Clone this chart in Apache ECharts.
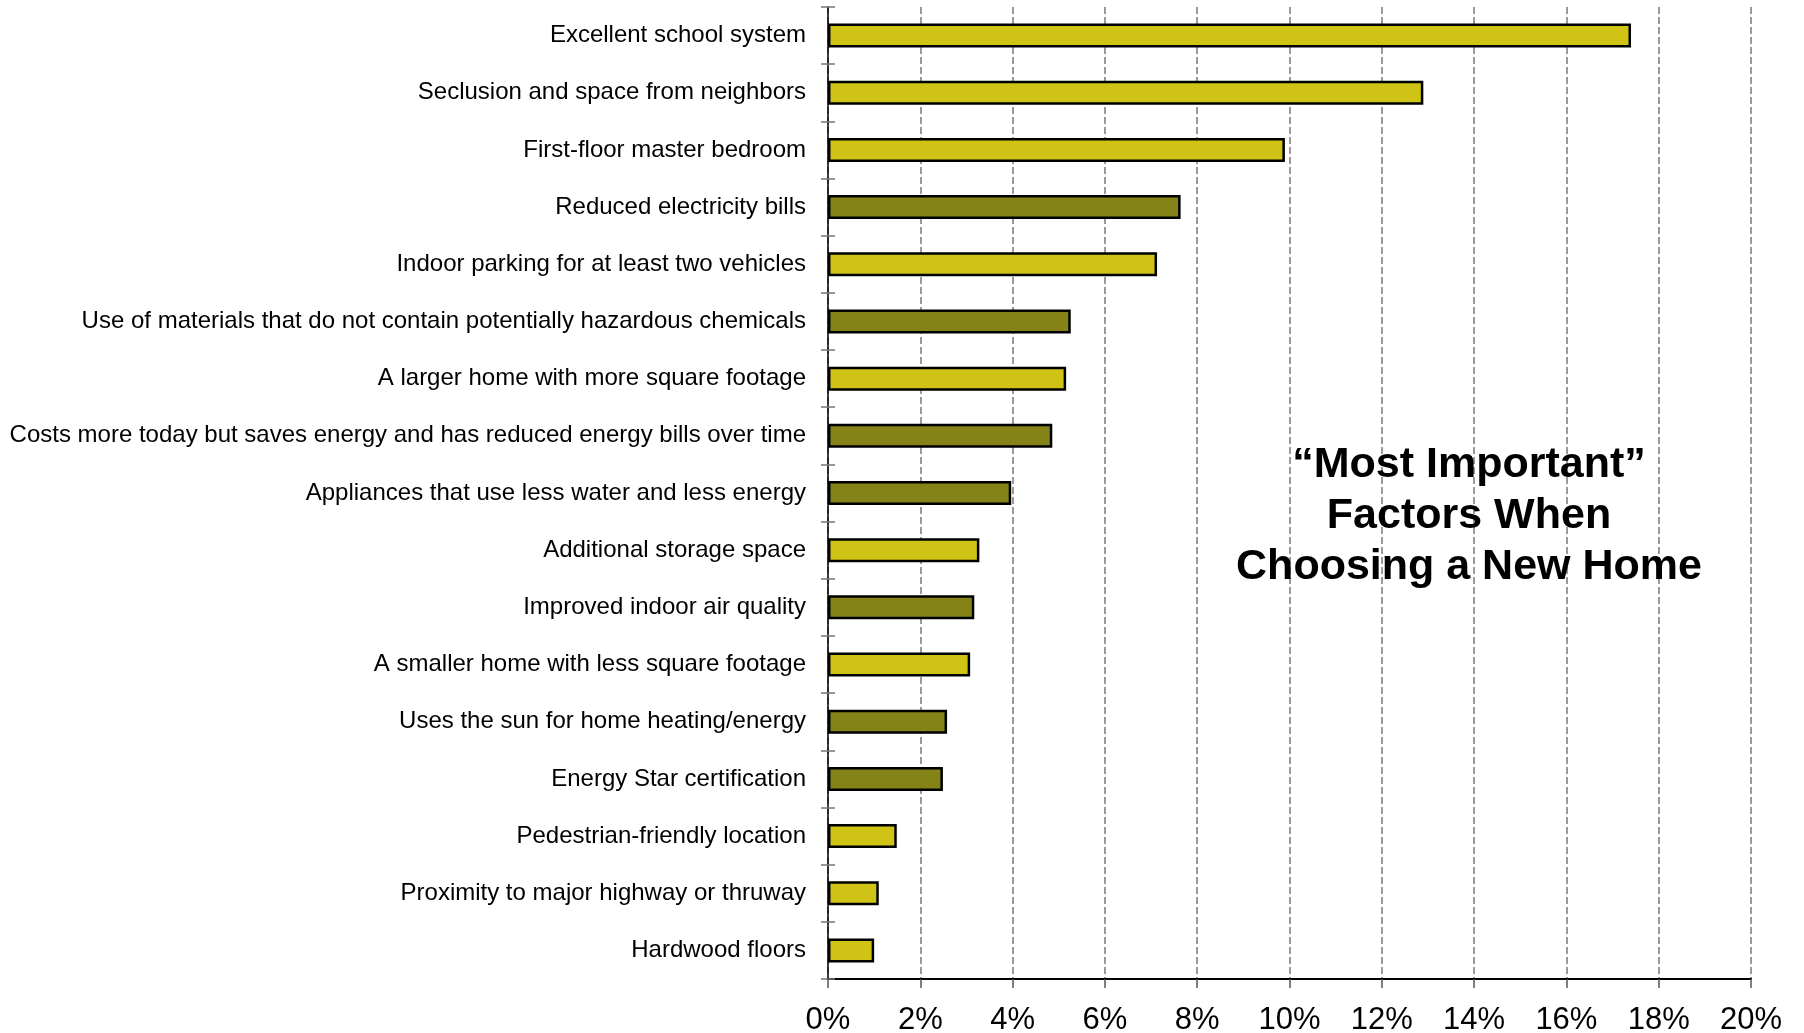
<!DOCTYPE html>
<html>
<head>
<meta charset="utf-8">
<script src="https://cdn.jsdelivr.net/npm/echarts@6/dist/echarts.min.js"></script>
<style>html,body{margin:0;padding:0;background:#fff}#c{width:1804px;height:1033px}</style>
</head>
<body>
<div id="c"></div>
<script>
const categories = [
  "Excellent school system",
  "Seclusion and space from neighbors",
  "First-floor master bedroom",
  "Reduced electricity bills",
  "Indoor parking for at least two vehicles",
  "Use of materials that do not contain potentially hazardous chemicals",
  "A larger home with more square footage",
  "Costs more today but saves energy and has reduced energy bills over time",
  "Appliances that use less water and less energy",
  "Additional storage space",
  "Improved indoor air quality",
  "A smaller home with less square footage",
  "Uses the sun for home heating/energy",
  "Energy Star certification",
  "Pedestrian-friendly location",
  "Proximity to major highway or thruway",
  "Hardwood floors"
];
const values = [17.4, 12.9, 9.9, 7.64, 7.13, 5.26, 5.16, 4.86, 3.97, 3.28, 3.17, 3.08, 2.58, 2.49, 1.49, 1.1, 1.0];
// 1 = green/energy-related factor (darker olive), 0 = other factor
const energyFactor = [0, 0, 0, 1, 0, 1, 0, 1, 1, 0, 1, 0, 1, 1, 0, 0, 0];
const xTicks = ["0%","2%","4%","6%","8%","10%","12%","14%","16%","18%","20%"];
const titleLines = ["\u201cMost Important\u201d", "Factors When", "Choosing a New Home"];

const BRIGHT = '#CFC416';
const DARK = '#858318';

const chart = echarts.init(document.getElementById('c'), null, {renderer: 'canvas'});
chart.setOption({
  animation: false,
  backgroundColor: '#ffffff',
  textStyle: {fontFamily: 'Liberation Sans, Arial, sans-serif'},
  title: {
    text: titleLines.join('\n'),
    left: 1464, top: 435, textAlign: 'center',
    textStyle: {fontSize: 43, fontWeight: 'bold', color: '#000', lineHeight: 51,
      fontFamily: 'Liberation Sans, Arial, sans-serif'}
  },
  grid: {left: 828, right: 53, top: 7, bottom: 54, containLabel: false, outerBoundsMode: 'none'},
  xAxis: {
    type: 'value', min: 0, max: 20, interval: 2,
    axisLine: {show: true, lineStyle: {color: '#000', width: 2}},
    axisTick: {show: true, length: 9, lineStyle: {color: '#555', width: 1.5}},
    splitLine: {show: true, lineStyle: {color: '#9a9a9a', width: 2, type: [7, 3]}},
    axisLabel: {
      margin: 26, fontSize: 31, color: '#000',
      formatter: function (v) { return xTicks[Math.round(v / 2)]; }
    }
  },
  yAxis: [{
    type: 'category', data: categories, inverse: true,
    axisLine: {show: true, lineStyle: {color: '#000', width: 1.5}},
    axisTick: {show: true, length: 7, lineStyle: {color: '#777', width: 1.5}},
    axisLabel: {fontSize: 24, color: '#000', margin: 22}
  }, {
    type: 'category', data: categories, inverse: true, position: 'left',
    axisLine: {show: false},
    axisTick: {show: true, inside: true, length: 7, lineStyle: {color: '#777', width: 1.5}},
    axisLabel: {show: false}
  }],
  series: [{
    type: 'bar',
    yAxisIndex: 0,
    barWidth: 24,
    data: values.map(function (v, i) {
      return {value: v, itemStyle: {color: energyFactor[i] ? DARK : BRIGHT}};
    }),
    itemStyle: {borderColor: '#000', borderWidth: 2.5}
  }]
});
</script>
</body>
</html>
